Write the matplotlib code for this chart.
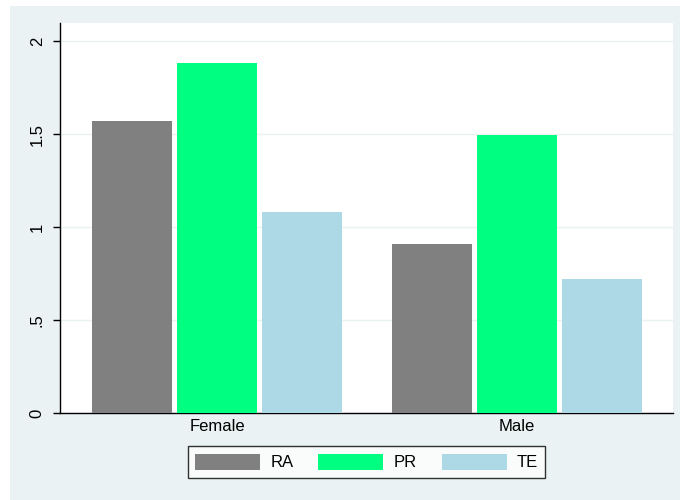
import matplotlib
matplotlib.use("Agg")
import matplotlib.pyplot as plt
from matplotlib.patches import Rectangle
import numpy as np

groups = ["Female", "Male"]
series = ["RA", "PR", "TE"]
ra = [1.57, 0.91]
pr = [1.88, 1.495]
te = [1.08, 0.72]
colors = ["#808080", "#00FF80", "#ADD8E6"]

plt.rcParams["font.family"] = ["Liberation Sans", "DejaVu Sans"]

fig = plt.figure(figsize=(6.8, 5), dpi=100)
fig.patch.set_facecolor("white")
bg = "#EAF2F3"
fig.patches.append(Rectangle((10 / 680, 0), 1, 494 / 500, transform=fig.transFigure,
                             facecolor=bg, edgecolor="none", zorder=-10))

ax = fig.add_axes([60 / 680, 1 - 413 / 500, 613 / 680, 390 / 500])
ax.set_facecolor("white")

x = np.arange(len(groups))
w = 80 / 300
step = 85 / 300
for i, (vals, c, lab) in enumerate(zip([ra, pr, te], colors, series)):
    ax.bar(x + (i - 1) * step, vals, width=w, color=c, label=lab, zorder=3)

ax.set_xlim(-157 / 300, 456 / 300)
ax.set_ylim(0, 390 / 186)
ax.set_yticks([0, 0.5, 1, 1.5, 2])
ax.set_yticklabels(["0", ".5", "1", "1.5", "2"], rotation=90, va="center", fontsize=12)
ax.set_xticks(x)
ax.set_xticklabels(groups, fontsize=12)
ax.tick_params(axis="x", length=0, pad=4)
ax.tick_params(axis="y", length=5, width=1, pad=6, direction="out")
ax.yaxis.grid(True, color="#EAF2F3", linewidth=1, zorder=0)
for s in ["top", "right"]:
    ax.spines[s].set_visible(False)
ax.spines["left"].set_linewidth(1)
ax.spines["bottom"].set_linewidth(1)

leg = ax.legend(loc="center", bbox_to_anchor=(366.5 / 680, 1 - 462 / 500),
                bbox_transform=fig.transFigure, ncol=3, fontsize=12,
                handlelength=3.9, handleheight=1.1, handletextpad=0.6,
                columnspacing=1.5, borderpad=0.45, borderaxespad=0,
                fancybox=False, frameon=True)
leg.get_frame().set_edgecolor("black")
leg.get_frame().set_linewidth(1)

fig.savefig("out.png", dpi=100)
